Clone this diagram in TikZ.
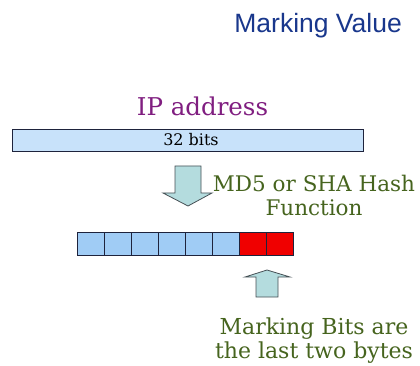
\documentclass[tikz,border=0pt]{standalone}
\usepackage{fontspec}
\newfontfamily\dvs{DejaVu Serif}
\newfontfamily\lsans{Liberation Sans}
\definecolor{titleblue}{RGB}{25,55,140}
\definecolor{ippurple}{RGB}{128,30,128}
\definecolor{txtgreen}{RGB}{70,100,30}
\definecolor{barfill}{RGB}{200,226,250}
\definecolor{cellfill}{RGB}{160,204,245}
\definecolor{cellred}{RGB}{240,0,0}
\definecolor{edge}{RGB}{30,35,60}
\definecolor{arrowfill}{RGB}{180,220,222}
\definecolor{arrowedge}{RGB}{70,80,85}
\tikzset{
  cellbox/.style={draw=edge, line width=0.9pt, fill=cellfill, minimum width=27pt, minimum height=23pt, inner sep=0pt},
  redbox/.style={cellbox, fill=cellred},
  blockarrow/.style={draw=arrowedge, line width=0.8pt, fill=arrowfill, line join=miter},
  greentext/.style={text=txtgreen, font=\dvs\fontsize{21.5}{23.5}\selectfont, align=center, inner sep=0pt}
}
\begin{document}
\begin{tikzpicture}[x=1pt,y=-1pt]
\useasboundingbox (0,0) rectangle (420,366);
\node[anchor=base east, text=titleblue, font=\lsans\fontsize{26.5}{30}\selectfont, inner sep=0pt] (title) at (402,33) {Marking Value};
\node[anchor=base, text=ippurple, font=\dvs\fontsize{24.5}{28}\selectfont, inner sep=0pt] (ip) at (202.5,116) {IP address};
\node[draw=edge, line width=0.9pt, fill=barfill, minimum width=351pt, minimum height=22pt, inner sep=0pt] (bar) at (187.5,140) {};
\node[anchor=base, font=\dvs\fontsize{16}{19}\selectfont, inner sep=0pt] (bits) at (191,145.5) {32 bits};
\foreach \i in {0,...,5} {
  \node[cellbox] (c\i) at (90.5+27*\i,243.5) {};
}
\foreach \i in {6,7} {
  \node[redbox] (c\i) at (90.5+27*\i,243.5) {};
}
\draw[blockarrow] (175,166) -- (201,166) -- (201,193) -- (212,193) -- (188,206) -- (163,193) -- (175,193) -- cycle;
\draw[blockarrow] (256,297) -- (278,297) -- (278,277) -- (290,277) -- (267,270) -- (245,277) -- (256,277) -- cycle;
\node[greentext, anchor=base] (hash) at (314,215) {MD5 or SHA Hash\\Function};
\node[greentext, font=\dvs\fontsize{22}{23.5}\selectfont, anchor=base] (mark) at (314,358) {Marking Bits are\\the last two bytes};
\end{tikzpicture}
\end{document}
